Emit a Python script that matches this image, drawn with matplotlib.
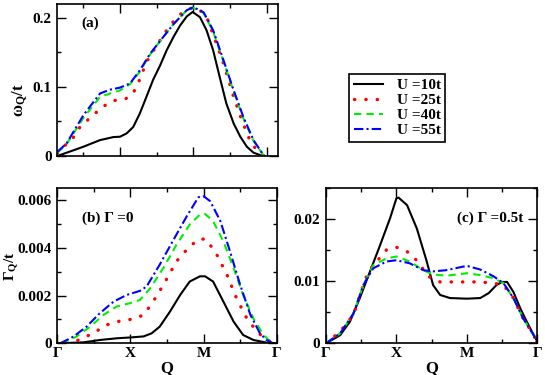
import matplotlib
matplotlib.use("Agg")
import matplotlib.pyplot as plt
from matplotlib.ticker import MultipleLocator, FixedLocator, FuncFormatter

plt.rcParams['font.family'] = ['Liberation Serif', 'DejaVu Serif']
plt.rcParams['font.weight'] = 'bold'
plt.rcParams['mathtext.fontset'] = 'custom'
plt.rcParams['mathtext.rm'] = 'Liberation Serif:bold'
plt.rcParams['mathtext.bf'] = 'Liberation Serif:bold'
plt.rcParams['mathtext.it'] = 'Liberation Serif:bold:italic'

labels = ['U =10t', 'U =25t', 'U =40t', 'U =55t']
colors = ['black', 'red', '#00ee00', 'blue']

# ---- panel (a): omega_Q / t  (Gamma=0, X=1, M=2, Gamma=3)
a_x10 = [0.145, 0.5, 0.727, 0.909, 1.0, 1.09, 1.18, 1.27, 1.36, 1.45, 1.546, 1.636, 1.727, 1.82, 1.91, 1.99,
         2.09, 2.18, 2.27, 2.36, 2.45, 2.55, 2.64, 2.73, 2.82, 2.91, 2.955]
a_y10 = [0.0, 0.0134, 0.023, 0.0274, 0.0279, 0.0327, 0.042, 0.0616, 0.0856, 0.110, 0.131, 0.153, 0.172, 0.189, 0.202, 0.2085,
         0.201, 0.182, 0.153, 0.114, 0.076, 0.047, 0.028, 0.0134, 0.0048, 0.0014, 0.0]
a_x25 = [0.145, 0.225, 0.34, 0.454, 0.568, 0.66, 0.75, 0.864, 0.978, 1.08, 1.18, 1.27, 1.36, 1.5, 1.68, 1.82, 1.96,
         2.07, 2.19, 2.3, 2.41, 2.55, 2.66, 2.77, 2.88, 2.955]
a_y25 = [0.004, 0.0134, 0.023, 0.042, 0.053, 0.0616, 0.070, 0.078, 0.082, 0.083, 0.091, 0.111, 0.136, 0.160, 0.189, 0.205, 0.2135,
         0.2135, 0.199, 0.167, 0.134, 0.0856, 0.052, 0.023, 0.006, 0.0]
a_x40 = [0.145, 0.27, 0.5, 0.727, 0.864, 1.0, 1.136, 1.27, 1.41, 1.55, 1.73, 1.91, 2.0,
         2.14, 2.27, 2.41, 2.55, 2.68, 2.82, 2.955, 2.98]
a_y40 = [0.005, 0.017, 0.055, 0.0856, 0.0905, 0.095, 0.104, 0.122, 0.147, 0.167, 0.191, 0.211, 0.2145,
         0.207, 0.180, 0.137, 0.093, 0.055, 0.022, 0.0014, 0.0]
a_x55 = [0.145, 0.27, 0.5, 0.727, 0.864, 1.0, 1.136, 1.27, 1.41, 1.55, 1.73, 1.91, 2.0,
         2.14, 2.27, 2.41, 2.55, 2.68, 2.82, 2.955, 2.98]
a_y55 = [0.006, 0.018, 0.059, 0.0905, 0.096, 0.099, 0.105, 0.124, 0.148, 0.167, 0.191, 0.211, 0.2155,
         0.208, 0.182, 0.139, 0.095, 0.057, 0.023, 0.0014, 0.0]

# ---- panel (b): Gamma_Q / t, Gamma = 0
b_x10 = [0.0, 0.356, 0.584, 0.81, 1.02, 1.18, 1.29, 1.40, 1.54, 1.68, 1.81, 1.95, 2.02, 2.13, 2.27, 2.41, 2.54, 2.68, 2.86, 3.0]
b_y10 = [0.0, 0.04e-3, 0.14e-3, 0.21e-3, 0.25e-3, 0.29e-3, 0.42e-3, 0.70e-3, 1.33e-3, 2.03e-3, 2.59e-3, 2.81e-3, 2.81e-3,
         2.59e-3, 1.75e-3, 0.91e-3, 0.35e-3, 0.14e-3, 0.03e-3, 0.0]
b_x25 = [0.13, 0.29, 0.49, 0.67, 0.86, 1.04, 1.18, 1.31, 1.45, 1.63, 1.81, 1.95, 2.04, 2.18, 2.32, 2.45, 2.59, 2.73, 2.86, 2.98]
b_y25 = [0.0, 0.14e-3, 0.42e-3, 0.77e-3, 0.94e-3, 1.02e-3, 1.19e-3, 1.75e-3, 2.45e-3, 3.44e-3, 4.07e-3, 4.39e-3, 4.35e-3,
         3.72e-3, 2.87e-3, 1.89e-3, 1.05e-3, 0.49e-3, 0.14e-3, 0.0]
b_x40 = [0.06, 0.26, 0.45, 0.63, 0.81, 0.99, 1.13, 1.27, 1.45, 1.63, 1.81, 1.95, 2.02, 2.13, 2.27, 2.41, 2.54, 2.68, 2.82, 2.91, 2.98]
b_y40 = [0.0, 0.28e-3, 0.70e-3, 1.19e-3, 1.54e-3, 1.68e-3, 1.82e-3, 2.31e-3, 3.16e-3, 4.14e-3, 4.98e-3, 5.40e-3, 5.43e-3,
         5.12e-3, 4.28e-3, 3.16e-3, 2.03e-3, 1.05e-3, 0.35e-3, 0.07e-3, 0.0]
b_x55 = [0.04, 0.22, 0.40, 0.58, 0.77, 0.95, 1.13, 1.22, 1.40, 1.59, 1.77, 1.93, 2.0, 2.09, 2.23, 2.36, 2.50, 2.64, 2.77, 2.86, 2.95]
b_y55 = [0.0, 0.28e-3, 0.70e-3, 1.26e-3, 1.75e-3, 2.03e-3, 2.20e-3, 2.38e-3, 3.30e-3, 4.35e-3, 5.33e-3, 6.13e-3, 6.17e-3,
         5.96e-3, 5.12e-3, 3.86e-3, 2.45e-3, 1.19e-3, 0.42e-3, 0.14e-3, 0.0]

# ---- panel (c): Gamma_Q / t, Gamma = 0.5t
c_x10 = [0.0, 0.2, 0.34, 0.48, 0.625, 0.77, 0.91, 1.0, 1.03, 1.15, 1.29, 1.43, 1.52, 1.62, 1.76, 2.0, 2.19, 2.31, 2.42,
         2.5, 2.57, 2.66, 2.76, 2.85, 2.95, 3.0]
c_y10 = [0.0, 0.0013, 0.0035, 0.0073, 0.0116, 0.0159, 0.0202, 0.0234, 0.0235, 0.0223, 0.0185, 0.0132, 0.0094, 0.0078,
         0.0073, 0.0072, 0.0073, 0.0081, 0.0094, 0.0099, 0.0099, 0.0083, 0.0056, 0.0035, 0.0013, 0.0003]
c_x25 = [0.0, 0.2, 0.39, 0.53, 0.6, 0.72, 0.86, 1.0, 1.15, 1.24, 1.34, 1.45, 1.62, 1.81, 2.0, 2.19, 2.38, 2.52, 2.66, 2.80, 2.95, 3.0]
c_y25 = [0.0, 0.0019, 0.0046, 0.0094, 0.0116, 0.0132, 0.0151, 0.0155, 0.0148, 0.0140, 0.0126, 0.0108, 0.0099, 0.0099,
         0.0099, 0.0099, 0.0097, 0.0094, 0.0073, 0.0040, 0.0013, 0.0]
c_x40 = [0.0, 0.2, 0.39, 0.53, 0.67, 0.86, 1.0, 1.19, 1.38, 1.52, 1.71, 2.0, 2.19, 2.38, 2.52, 2.66, 2.80, 2.95, 3.0]
c_y40 = [0.0, 0.0016, 0.0048, 0.0094, 0.0126, 0.0137, 0.0140, 0.0132, 0.0118, 0.0111, 0.0109, 0.0113, 0.0110, 0.0105,
         0.0097, 0.0073, 0.0040, 0.0013, 0.0]
c_x55 = [0.0, 0.2, 0.39, 0.53, 0.67, 0.86, 1.0, 1.19, 1.38, 1.52, 1.71, 2.0, 2.19, 2.38, 2.52, 2.66, 2.80, 2.95, 3.0]
c_y55 = [0.0, 0.0016, 0.0048, 0.0094, 0.0121, 0.0132, 0.0134, 0.0129, 0.0118, 0.0116, 0.0118, 0.0125, 0.0119, 0.0108,
         0.0097, 0.0073, 0.0040, 0.0013, 0.0]

q_ticks = [0, 1, 2, 3]
q_labels = ['Γ', 'X', 'M', 'Γ']

styles = [
    dict(linestyle='-', linewidth=1.5),
    dict(linestyle=(0, (0.1, 3.3)), linewidth=2.4, dash_capstyle='round'),
    dict(linestyle=(0, (3.5, 2.5)), linewidth=1.5),
    dict(linestyle=(0, (4.5, 1.5, 1.0, 1.5)), linewidth=1.5),
]

fig = plt.figure(figsize=(5.45, 3.75), dpi=100)
axa = fig.add_axes([0.1052, 0.584, 0.4043, 0.4053])
axb = fig.add_axes([0.1052, 0.0845, 0.4026, 0.4133])
axc = fig.add_axes([0.5982, 0.0845, 0.3877, 0.4133])

TS = 11


def style_axis(ax):
    for s in ax.spines.values():
        s.set_linewidth(1.2)
    ax.tick_params(which='both', direction='in', top=True, right=True, width=1.0, labelsize=TS)
    ax.tick_params(which='major', length=6.5)
    ax.tick_params(which='minor', length=3)
    ax.tick_params(axis='y', pad=4)
    ax.tick_params(axis='x', pad=2.5)
    for lab in ax.get_xticklabels() + ax.get_yticklabels():
        lab.set_fontweight('bold')


fmt = FuncFormatter(lambda v, p: '0' if abs(v) < 1e-12 else ('%g' % v))

# panel a
handles = []
for xs, ys, c, st, lab in zip([a_x10, a_x25, a_x40, a_x55], [a_y10, a_y25, a_y40, a_y55], colors, styles, labels):
    h, = axa.plot(xs, ys, color=c, label=lab, **st)
    handles.append(h)
axa.set_xlim(0.145, 3.15)
axa.set_ylim(0, 0.22)
axa.xaxis.set_major_locator(FixedLocator([1, 2, 3]))
axa.xaxis.set_minor_locator(FixedLocator([0.5, 1.5, 2.5]))
axa.set_xticklabels([])
axa.yaxis.set_major_locator(MultipleLocator(0.1))
axa.yaxis.set_minor_locator(MultipleLocator(0.05))
axa.yaxis.set_major_formatter(fmt)
axa.set_ylabel('ω$_{\\mathrm{Q}}$/t', fontsize=12, fontweight='bold')
axa.yaxis.set_label_coords(-0.125, 0.37)
axa.text(0.148, 0.873, '(a)', transform=axa.transAxes, fontsize=TS, fontweight='bold', ha='center', va='center')
style_axis(axa)

# panel b
for xs, ys, c, st in zip([b_x10, b_x25, b_x40, b_x55], [b_y10, b_y25, b_y40, b_y55], colors, styles):
    axb.plot(xs, ys, color=c, **st)
axb.set_xlim(0, 3)
axb.set_ylim(0, 0.0065)
axb.xaxis.set_major_locator(FixedLocator(q_ticks))
axb.set_xticklabels(q_labels)
axb.xaxis.set_minor_locator(FixedLocator([0.5, 1.5, 2.5]))
axb.yaxis.set_major_locator(MultipleLocator(0.002))
axb.yaxis.set_minor_locator(MultipleLocator(0.001))
axb.yaxis.set_major_formatter(fmt)
axb.set_ylabel('Γ$_{\\mathrm{Q}}$/t', fontsize=11, fontweight='bold')
axb.yaxis.set_label_coords(-0.165, 0.5)
axb.set_xlabel('Q', fontsize=12, fontweight='bold', labelpad=0)
axb.text(0.111, 0.806, '(b) Γ =0', transform=axb.transAxes, fontsize=TS, fontweight='bold', ha='left', va='center')
style_axis(axb)

# panel c
for xs, ys, c, st in zip([c_x10, c_x25, c_x40, c_x55], [c_y10, c_y25, c_y40, c_y55], colors, styles):
    axc.plot(xs, ys, color=c, **st)
axc.set_xlim(0, 3)
axc.set_ylim(0, 0.025)
axc.xaxis.set_major_locator(FixedLocator(q_ticks))
axc.set_xticklabels(q_labels)
axc.xaxis.set_minor_locator(FixedLocator([0.5, 1.5, 2.5]))
axc.yaxis.set_major_locator(MultipleLocator(0.01))
axc.yaxis.set_minor_locator(MultipleLocator(0.005))
axc.yaxis.set_major_formatter(fmt)
axc.set_xlabel('Q', fontsize=12, fontweight='bold', labelpad=0)
axc.text(0.619, 0.806, '(c) Γ =0.5t', transform=axc.transAxes, fontsize=TS, fontweight='bold', ha='left', va='center')
style_axis(axc)

leg = fig.legend(handles=handles, loc='upper left', bbox_to_anchor=(349.3 / 545, 1 - 74 / 375),
                 frameon=True, fancybox=False, edgecolor='black', framealpha=1,
                 prop={'family': 'Liberation Serif', 'weight': 'bold', 'size': 11},
                 handlelength=1.9, handletextpad=0.9, labelspacing=0.08, borderpad=0.3, borderaxespad=0)
leg.get_frame().set_linewidth(1.2)

fig.savefig('out.png', dpi=100)
